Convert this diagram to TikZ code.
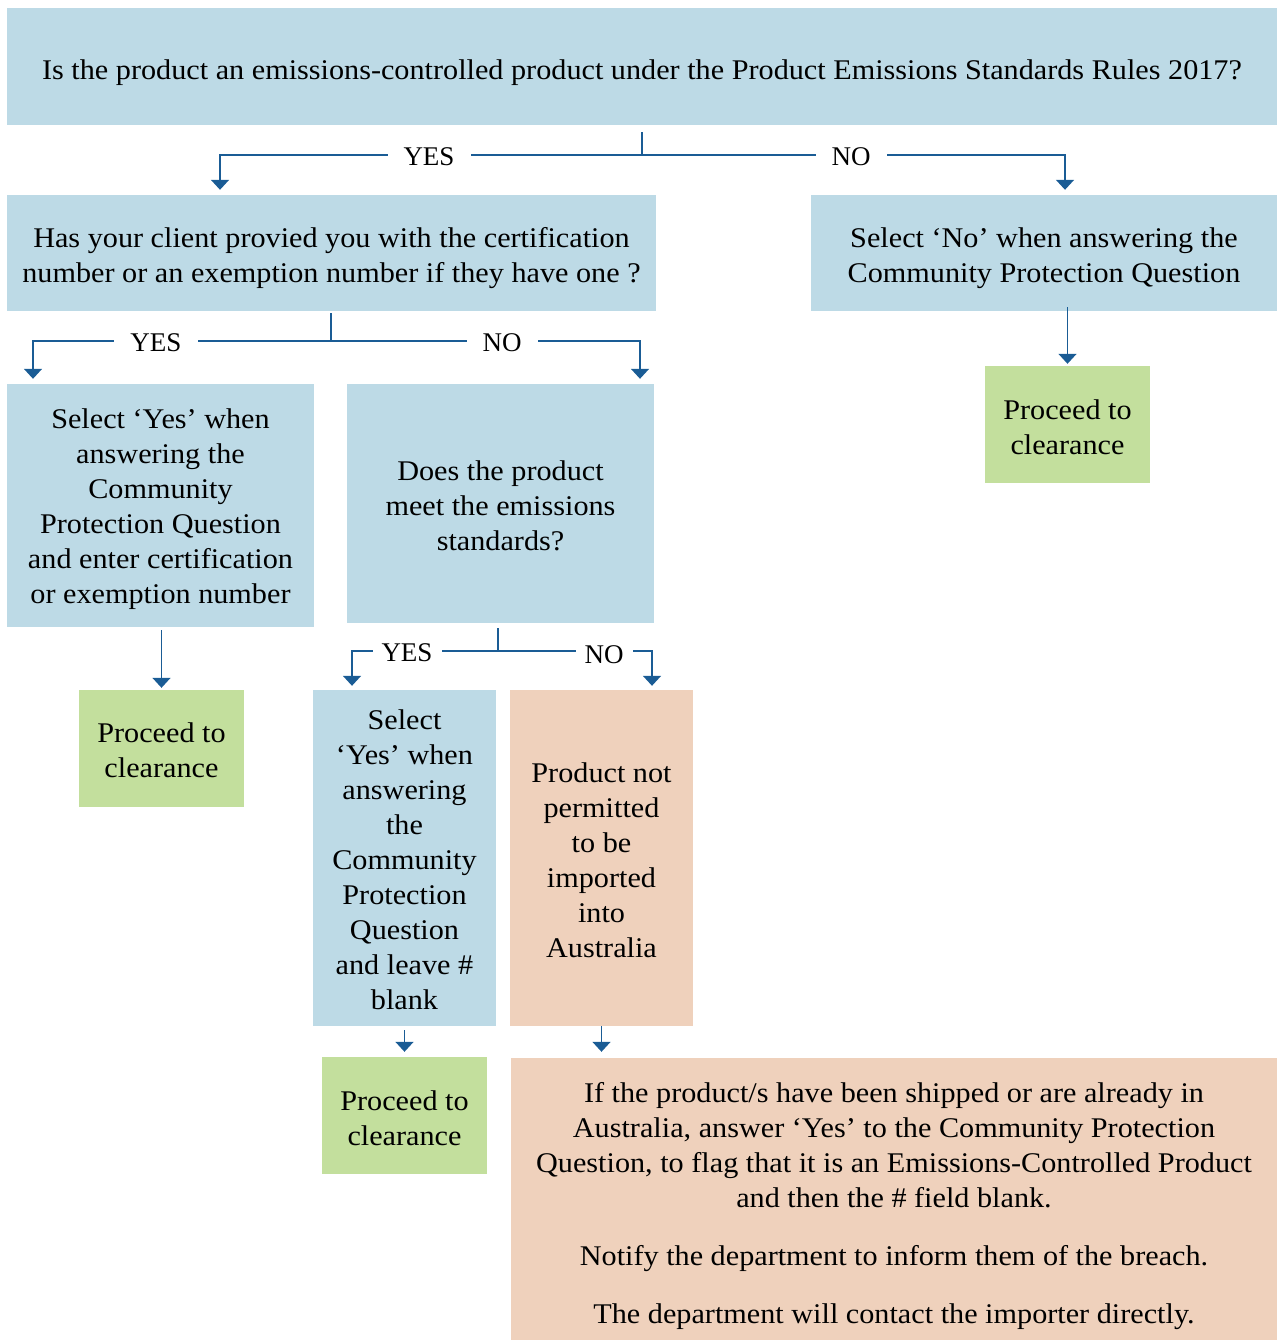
\documentclass[tikz,border=0pt]{standalone}
\usepackage{fontspec}
\setmainfont{Liberation Serif}[FakeStretch=1.06]
\newfontfamily\lblfont{Liberation Serif}
\usetikzlibrary{arrows.meta,calc}
\definecolor{bbox}{HTML}{BDDAE6}
\definecolor{gbox}{HTML}{C3DF9D}
\definecolor{pbox}{HTML}{EFD1BC}
\definecolor{lblue}{HTML}{1A5C95}
\begin{document}
\begin{tikzpicture}[x=1pt,y=-1pt,
  box/.style={inner sep=0pt},
  bluebox/.style={box,fill=bbox},
  greenbox/.style={box,fill=gbox},
  peachbox/.style={box,fill=pbox},
  txt/.style={inner sep=0pt,align=center,font=\fontsize{28.5}{35}\selectfont},
  conn/.style={draw=lblue,line width=1.6pt},
  arr/.style={conn,-{Triangle[width=18pt,length=10pt]},shorten >=5pt},
  lbl/.style={fill=white,inner xsep=16pt,inner ysep=2pt,font=\lblfont\fontsize{27}{35}\selectfont}]
\useasboundingbox (0,0) rectangle (1279,1340);
% boxes
\node[bluebox,minimum width=1270pt,minimum height=117pt] (top) at (642,66.5) {};
\node[bluebox,minimum width=649pt,minimum height=116pt] (q2) at (331.5,253) {};
\node[bluebox,minimum width=466pt,minimum height=116pt] (q3) at (1044,253) {};
\node[greenbox,minimum width=165pt,minimum height=117pt] (g1) at (1067.5,424.5) {};
\node[bluebox,minimum width=307pt,minimum height=243pt] (b4) at (160.5,505.5) {};
\node[bluebox,minimum width=307pt,minimum height=239pt] (q5) at (500.5,503.5) {};
\node[greenbox,minimum width=165pt,minimum height=117pt] (g2) at (161.5,748.5) {};
\node[bluebox,minimum width=183pt,minimum height=336pt] (b6) at (404.5,858) {};
\node[peachbox,minimum width=183pt,minimum height=336pt] (p7) at (601.5,858) {};
\node[greenbox,minimum width=165pt,minimum height=117pt] (g3) at (404.5,1115.5) {};
\node[peachbox,minimum width=766pt,minimum height=282pt] (p8) at (894,1199) {};
% texts
\node[txt] (topt) at ($(top)+(0,6)$)
  {Is the product an emissions-controlled product under the Product Emissions Standards Rules 2017?};
\node[txt] (q2t) at ($(q2)+(0,5)$)
  {Has your client provied you with the certification\\number or an exemption number if they have one ?};
\node[txt] (q3t) at ($(q3)+(0,5)$)
  {Select ‘No’ when answering the\\Community Protection Question};
\node[txt] (g1t) at ($(g1)+(0,3)$) {Proceed to\\clearance};
\node[txt] (b4t) at ($(b4)+(0,4)$)
  {Select ‘Yes’ when\\answering the\\Community\\Protection Question\\and enter certification\\or exemption number};
\node[txt] (q5t) at ($(q5)+(0,2)$)
  {Does the product\\meet the emissions\\standards?};
\node[txt] (g2t) at ($(g2)+(0,2)$) {Proceed to\\clearance};
\node[txt] (b6t) at ($(b6)+(0,1.5)$)
  {Select\\‘Yes’ when\\answering\\the\\Community\\Protection\\Question\\and leave \#\\blank};
\node[txt] (p7t) at ($(p7)+(0,2)$)
  {Product not\\permitted\\to be\\imported\\into\\Australia};
\node[txt] (g3t) at ($(g3)+(0,3)$) {Proceed to\\clearance};
\node[txt] (p8t) at ($(p8)+(0,7.5)$)
  {If the product/s have been shipped or are already in\\Australia, answer ‘Yes’ to the Community Protection\\Question, to flag that it is an Emissions-Controlled Product\\and then the \# field blank.\\[23pt]Notify the department to inform them of the breach.\\[23pt]The department will contact the importer directly.};
% junction coordinates
\coordinate (j1) at (642,155);
\coordinate (x1) at (220,0);
\coordinate (x2) at (1065,0);
\coordinate (j2) at (331,341);
\coordinate (x3) at (33,0);
\coordinate (x4) at (640,0);
\coordinate (j3) at (498,651);
\coordinate (x5) at (352,0);
\coordinate (x6) at (652,0);
% first decision
\draw[conn] ($(top.south -| j1)+(0,7)$) -- (j1);
\draw[arr] (j1) -| (q2.north -| x1);
\draw[arr] (j1) -| (q3.north -| x2);
\node[lbl] (l1) at (429,157) {YES};
\node[lbl] (l2) at (851,157) {NO};
% second decision
\draw[conn] ($(q2.south -| j2)+(0,2)$) -- (j2);
\draw[arr] (j2) -| (b4.north -| x3);
\draw[arr] (j2) -| (q5.north -| x4);
\node[lbl] (l3) at (156,343) {YES};
\node[lbl] (l4) at (502,343) {NO};
% right branch
\draw[arr,shorten >=2pt] ($(q3.south -| g1.north)+(0,-4)$) -- (g1.north);
% left branch
\draw[arr,shorten >=2pt] ($(b4.south -| g2.north)+(0,3)$) -- (g2.north);
% third decision
\draw[conn] ($(q5.south -| j3)+(0,5)$) -- (j3);
\draw[arr,shorten >=4pt] (j3) -| (b6.north -| x5);
\draw[arr,shorten >=4pt] (j3) -| (p7.north -| x6);
\node[lbl,inner xsep=9pt] (l5) at (407,653) {YES};
\node[lbl,inner xsep=9pt] (l6) at (604,655) {NO};
% bottom arrows
\draw[arr] ($(b6.south)+(0,4)$) -- (g3.north);
\draw[arr,shorten >=6pt] (p7.south) -- (p8.north -| p7.south);
\end{tikzpicture}
\end{document}
